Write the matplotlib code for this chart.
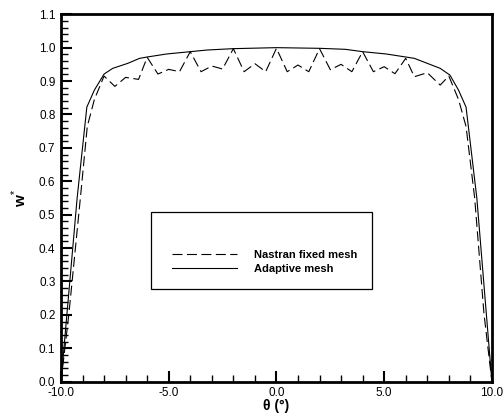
import matplotlib
matplotlib.use("Agg")
import matplotlib.pyplot as plt
from matplotlib.ticker import MultipleLocator, FormatStrFormatter
from matplotlib.patches import Rectangle

plt.rcParams['font.family'] = ['Liberation Sans', 'DejaVu Sans']
plt.rcParams['mathtext.fontset'] = 'custom'
plt.rcParams['mathtext.rm'] = 'Liberation Sans'
plt.rcParams['mathtext.bf'] = 'Liberation Sans:bold'

# adaptive mesh (solid)
theta_adapt = [-10.0, -9.25, -8.8, -8.45, -8.0, -7.6, -6.9, -6.35, -6.0, -5.1, -4.0, -3.2, -2.0, 0.0,
               2.0, 3.2, 4.0, 5.1, 6.0, 6.4, 7.0, 7.6, 8.05, 8.45, 8.8, 9.3, 10.0]
w_adapt = [0.0, 0.55, 0.822, 0.873, 0.921, 0.938, 0.953, 0.968, 0.972, 0.981, 0.988, 0.993, 0.997, 1.0,
           0.998, 0.995, 0.988, 0.981, 0.972, 0.968, 0.953, 0.938, 0.918, 0.873, 0.822, 0.55, 0.0]

# Nastran fixed mesh (dashed)
theta_nastran = [-10.0, -9.63, -9.1, -8.78, -8.45, -8.0, -7.5, -7.0, -6.4, -6.0, -5.5, -5.0, -4.5, -4.0,
                 -3.5, -3.0, -2.5, -2.0, -1.5, -1.0, -0.5, 0.0, 0.5, 1.0, 1.5, 2.0, 2.5, 3.0, 3.5, 4.0,
                 4.5, 5.0, 5.5, 6.0, 6.4, 7.0, 7.6, 8.0, 8.45, 8.8, 9.2, 9.63, 10.0]
w_nastran = [0.0, 0.205, 0.55, 0.764, 0.845, 0.915, 0.884, 0.911, 0.905, 0.971, 0.921, 0.935, 0.928, 0.988,
             0.928, 0.945, 0.936, 0.997, 0.928, 0.952, 0.928, 0.998, 0.928, 0.948, 0.928, 0.997, 0.934,
             0.950, 0.928, 0.988, 0.928, 0.943, 0.922, 0.968, 0.913, 0.925, 0.888, 0.915, 0.845, 0.764,
             0.55, 0.205, 0.0]

fig = plt.figure(figsize=(5.04, 4.19), dpi=100)
ax = fig.add_axes([0.121, 0.089, 0.855, 0.877])

ax.plot(theta_nastran, w_nastran, color='black', lw=0.8, dashes=(9, 4), label='Nastran fixed mesh')
ax.plot(theta_adapt, w_adapt, color='black', lw=0.8, label='Adaptive mesh')

ax.set_xlim(-10, 10)
ax.set_ylim(0, 1.1)
ax.xaxis.set_major_locator(MultipleLocator(5))
ax.xaxis.set_minor_locator(MultipleLocator(1))
ax.yaxis.set_major_locator(MultipleLocator(0.1))
ax.yaxis.set_minor_locator(MultipleLocator(0.02))
ax.xaxis.set_major_formatter(FormatStrFormatter('%.1f'))
ax.yaxis.set_major_formatter(FormatStrFormatter('%.1f'))

for s in ax.spines.values():
    s.set_linewidth(2)
ax.tick_params(which='both', direction='in', top=False, right=False, labelsize=8.5)
ax.tick_params(which='major', length=8, width=1.5, pad=4)
ax.tick_params(which='minor', length=5, width=1)

ax.set_xlabel('θ (°)', fontsize=10, fontweight='bold', labelpad=0)
ax.set_ylabel(r'$\mathbf{w}^{*}$', fontsize=11, labelpad=7)

# legend frame
ax.add_patch(Rectangle((0.208, 0.252), 0.514, 0.21, transform=ax.transAxes,
                       fill=False, edgecolor='black', lw=0.9, zorder=3))
leg = ax.legend(loc='center left', bbox_to_anchor=(0.258, 0.325), frameon=False,
                borderpad=0, borderaxespad=0, handlelength=5.8, handletextpad=1.6,
                labelspacing=0.35, prop={'size': 8, 'weight': 'bold'})

fig.savefig('out.png', dpi=100)
